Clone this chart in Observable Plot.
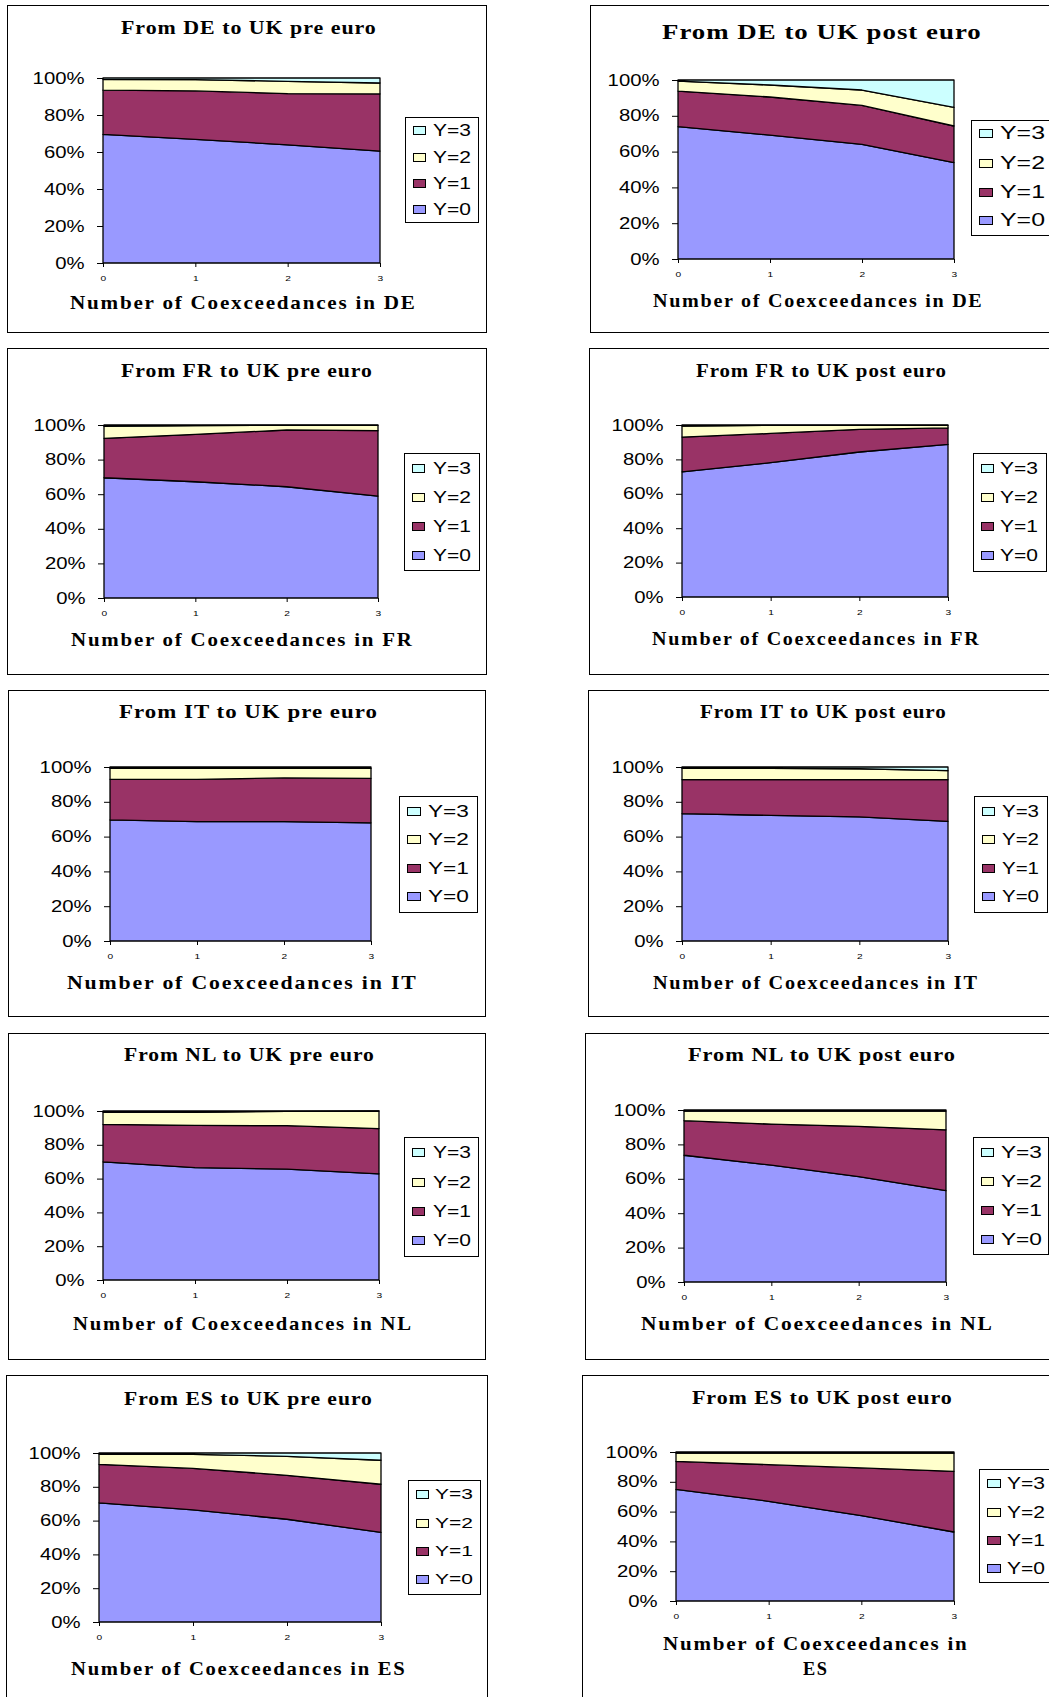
<!DOCTYPE html>
<html><head><meta charset="utf-8">
<script src="https://cdn.jsdelivr.net/npm/d3@7"></script>
<script src="https://cdn.jsdelivr.net/npm/@observablehq/plot@0.6"></script>
<style>
body{margin:0;background:#fff;overflow:hidden}
#root{position:relative;width:1049px;height:1697px;overflow:hidden;background:#fff}
.panel{position:absolute;border:1px solid #000;box-sizing:border-box;background:#fff}
.chart{position:absolute}
#overlay{position:absolute;left:0;top:0}
</style></head>
<body><div id="root"></div>
<script>
// ---- data ----
const xs = [0, 1, 2, 3];
const series = ["Y=0", "Y=1", "Y=2", "Y=3"];
const colors = ["#9999FF", "#993366", "#FFFFCC", "#CCFFFF"];
const legendOrder = ["Y=3", "Y=2", "Y=1", "Y=0"];
const yTicks = [0, 0.2, 0.4, 0.6, 0.8, 1];

// shares (%) per series Y=0..Y=3 at x = 0..3
const dePre  = [[69.5,66.8,63.9,60.5],[23.9,26.2,27.7,30.9],[5.9,6.1,6.6,5.9],[0.7,0.9,1.8,2.7]];
const dePost = [[73.9,69.2,64.0,53.9],[19.9,21.3,21.8,20.4],[5.6,6.7,8.6,10.4],[0.6,2.8,5.6,15.3]];
const frPre  = [[69.5,67.2,64.3,58.9],[22.8,27.4,32.8,37.8],[6.9,5.0,2.7,3.1],[0.8,0.4,0.2,0.2]];
const frPost = [[72.8,78.1,84.3,88.7],[20.2,17.0,13.2,9.6],[6.4,4.7,2.3,1.5],[0.6,0.2,0.2,0.2]];
const itPre  = [[69.6,68.6,68.6,67.9],[23.3,24.3,25.1,25.6],[6.3,6.3,5.5,5.7],[0.8,0.8,0.8,0.8]];
const itPost = [[73.2,72.2,71.3,68.8],[19.5,20.5,21.4,23.9],[6.5,6.5,6.3,5.2],[0.8,0.8,1.0,2.1]];
const nlPre  = [[69.9,66.5,65.6,62.8],[22.2,25.0,25.7,26.8],[7.3,7.7,8.5,10.4],[0.6,0.8,0.2,0.0]];
const nlPost = [[73.7,67.9,61.3,53.1],[20.1,23.9,29.2,35.4],[5.6,7.6,8.9,10.9],[0.6,0.6,0.6,0.6]];
const esPre  = [[70.5,66.3,60.8,53.0],[22.8,24.6,26.0,28.5],[6.1,8.3,11.2,14.2],[0.6,0.8,2.0,4.3]];
const esPost = [[74.9,66.9,57.3,46.3],[18.8,24.6,32.0,40.7],[5.6,7.8,10.0,12.3],[0.7,0.7,0.7,0.7]];

const titles = ["From DE to UK pre euro","From DE to UK post euro","From FR to UK pre euro","From FR to UK post euro",
  "From IT to UK pre euro","From IT to UK post euro","From NL to UK pre euro","From NL to UK post euro",
  "From ES to UK pre euro","From ES to UK post euro"];
const xLabels = [["Number of Coexceedances in DE"],["Number of Coexceedances in DE"],["Number of Coexceedances in FR"],["Number of Coexceedances in FR"],
  ["Number of Coexceedances in IT"],["Number of Coexceedances in IT"],["Number of Coexceedances in NL"],["Number of Coexceedances in NL"],
  ["Number of Coexceedances in ES"],["Number of Coexceedances in","ES"]];
const panelData = [dePre, dePost, frPre, frPost, itPre, itPost, nlPre, nlPost, esPre, esPost];

// ---- layout (page pixels) ----
const layout = [
 {box:[7,5,487,333], plot:[103,380,78,263], t:[121,376,34,18], xl:[[70,415,309]], xs:19, leg:[405,117,478,222], ly:[130,157,183,209], sw:[413,425], tx:[433,471], ls:16},
 {box:[590,5,1055,333], plot:[678,954,80,259], t:[662,981,39,21], xl:[[653,982,307]], xs:19, leg:[971,120,1055,235], ly:[133,163,192,220], sw:[979,992], tx:[1000,1045], ls:18},
 {box:[7,348,487,675], plot:[104,378,425,598], t:[121,372,377,18], xl:[[71,412,646]], xs:19, leg:[404,453,479,570], ly:[468,497,526,555], sw:[412,424], tx:[433,471], ls:16},
 {box:[589,348,1055,675], plot:[682,948,425,597], t:[696,946,377,18], xl:[[652,979,645]], xs:19, leg:[973,453,1046,571], ly:[468,497,526,555], sw:[981,993], tx:[1000,1038], ls:16},
 {box:[8,690,486,1017], plot:[110,371,767,941], t:[119,377,718,18], xl:[[67,416,989]], xs:19, leg:[399,796,477,912], ly:[811,839,868,896], sw:[407,420], tx:[428,469], ls:16},
 {box:[588,690,1055,1017], plot:[682,948,767,941], t:[700,946,718,18], xl:[[653,977,989]], xs:19, leg:[974,796,1047,912], ly:[811,839,868,896], sw:[982,994], tx:[1002,1039], ls:16},
 {box:[8,1033,486,1360], plot:[103,379,1111,1280], t:[124,374,1061,18], xl:[[73,411,1330]], xs:19, leg:[404,1137,478,1256], ly:[1152,1182,1211,1240], sw:[412,424], tx:[433,471], ls:16},
 {box:[585,1033,1055,1360], plot:[684,946,1110,1282], t:[688,955,1061,19], xl:[[641,992,1330]], xs:19, leg:[973,1137,1048,1254], ly:[1152,1181,1210,1239], sw:[981,993], tx:[1001,1042], ls:16},
 {box:[6,1375,488,1720], plot:[99,381,1453,1622], t:[124,372,1405,18], xl:[[71,405,1675]], xs:19, leg:[408,1480,480,1594], ly:[1494,1523,1551,1579], sw:[416,428], tx:[435,473], ls:15},
 {box:[582,1375,1055,1720], plot:[676,954,1452,1601], t:[692,952,1404,19], xl:[[663,967,1650],[803,827,1675]], xs:19, leg:[979,1469,1055,1582], ly:[1483,1512,1540,1568], sw:[987,1000], tx:[1007,1045], ls:16}
];

const root = document.getElementById("root");
const pct = d3.format(".0%");
const HS = 1.27; // horizontal stretch of tick labels

layout.forEach((L, i) => {
  const [bl, bt, br, bb] = L.box;
  const div = document.createElement("div");
  div.className = "panel";
  Object.assign(div.style, {left: bl + "px", top: bt + "px", width: (br - bl) + "px", height: (bb - bt) + "px"});
  root.appendChild(div);

  const rows = panelData[i];
  const data = [];
  xs.forEach((x, j) => series.forEach((s, k) => data.push({x, series: s, v: rows[k][j]})));

  const [px0, px1, py0, py1] = L.plot;
  const ml = 70, mr = 6, mt = 6, mb = 30;
  const chart = Plot.plot({
    width: (px1 - px0) + ml + mr,
    height: (py1 - py0) + mt + mb,
    marginLeft: ml, marginRight: mr, marginTop: mt, marginBottom: mb,
    style: {fontFamily: "'Liberation Sans', Arial, sans-serif", background: "transparent", overflow: "visible", color: "#000"},
    x: {domain: [0, 3]},
    y: {domain: [0, 1]},
    color: {domain: series, range: colors},
    marks: [
      Plot.areaY(data, {x: "x", y: "v", z: "series", fill: "series", offset: "normalize", stroke: "#000", strokeWidth: 1.3, strokeLinejoin: "round"}),
      Plot.axisX(xs, {tickSize: 4, tickPadding: 8, fontSize: 8, label: null, tickFormat: d => String(d)}),
      Plot.axisY(yTicks, {tickSize: 6, tickPadding: 13, fontSize: 16, label: null, tickFormat: pct})
    ]
  });
  chart.classList.add("chart");
  chart.style.left = (px0 - ml) + "px";
  chart.style.top = (py0 - mt) + "px";
  root.appendChild(chart);
  // stretch tick labels horizontally (the reference is horizontally stretched)
  chart.querySelectorAll('g[aria-label="y-axis tick label"] text').forEach(t => {
    const b = t.getBBox();
    const r = b.x + b.width;
    const tr = t.getAttribute("transform") || "";
    t.setAttribute("transform", `${tr} translate(${r},0) scale(${HS},1) translate(${-r},0)`);
  });
  chart.querySelectorAll('g[aria-label="x-axis tick label"] text').forEach(t => {
    const b = t.getBBox();
    const c = b.x + b.width / 2;
    const tr = t.getAttribute("transform") || "";
    t.setAttribute("transform", `${tr} translate(${c},0) scale(${HS},1) translate(${-c},0)`);
  });
});

// overlay for titles, axis titles, legends
const svg = d3.select(root).append("svg").attr("id", "overlay").attr("width", 1049).attr("height", 1697);
function fitText(str, x0, x1, y, family, weight, size, spacing) {
  const t = svg.append("text").attr("x", 0).attr("y", 0)
    .attr("font-family", family).attr("font-weight", weight).attr("font-size", size)
    .attr("letter-spacing", spacing || 0).text(str);
  let len = t.node().getComputedTextLength();
  if (spacing) len -= spacing; // trailing spacing after last glyph
  t.attr("transform", `translate(${x0},${y}) scale(${(x1 - x0) / len},1)`);
  return t;
}
const serif = "'Liberation Serif', 'Times New Roman', serif";
const sans = "'Liberation Sans', Arial, sans-serif";
layout.forEach((L, i) => {
  const [tx0, tx1, tb, ts] = L.t;
  fitText(titles[i], tx0, tx1, tb, serif, "bold", ts, 0.8);
  L.xl.forEach((seg, k) => fitText(xLabels[i][k], seg[0], seg[1], seg[2], serif, "bold", L.xs, 1.6));
  const [ll, lt, lr, lb] = L.leg;
  svg.append("rect").attr("x", ll + 0.5).attr("y", lt + 0.5).attr("width", lr - ll).attr("height", lb - lt)
    .attr("fill", "#fff").attr("stroke", "#000").attr("stroke-width", 1);
  legendOrder.forEach((name, k) => {
    const cy = L.ly[k];
    const sz = L.sw[1] - L.sw[0];
    svg.append("rect").attr("x", L.sw[0] + 0.5).attr("y", cy - 4 + 0.5).attr("width", sz).attr("height", 8)
      .attr("fill", colors[series.indexOf(name)]).attr("stroke", "#000").attr("stroke-width", 1);
    fitText(name, L.tx[0], L.tx[1], cy + L.ls * 0.36, sans, "normal", L.ls, 0);
  });
});
</script>
</body></html>
